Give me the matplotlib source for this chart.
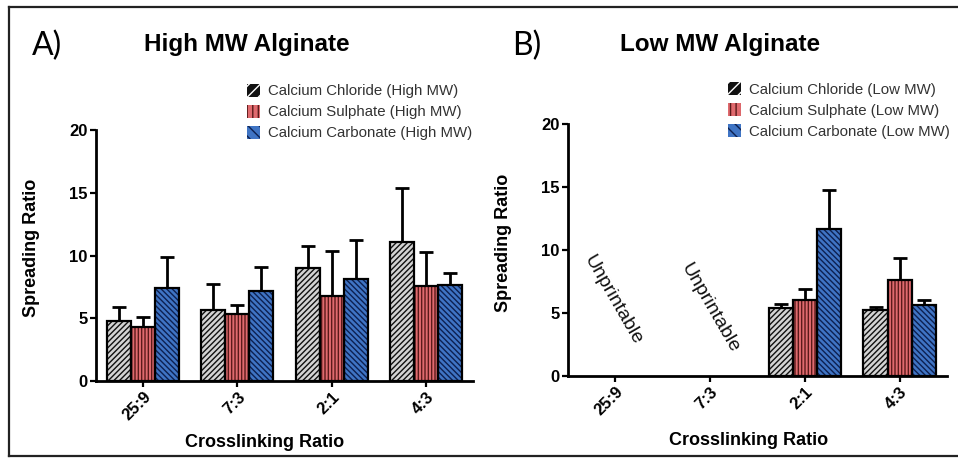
import numpy as np
import matplotlib.pyplot as plt
from matplotlib.patches import Patch
from matplotlib.lines import Line2D

plt.rcParams['font.family'] = ['Liberation Sans', 'DejaVu Sans']
plt.rcParams['hatch.linewidth'] = 1.0

# ---- data ----
ratios = ['25:9', '7:3', '2:1', '4:3']
salts = ['Calcium Chloride', 'Calcium Sulphate', 'Calcium Carbonate']

high_mean = [
    [4.8, 5.7, 9.0, 11.1],   # chloride
    [4.3, 5.35, 6.8, 7.6],   # sulphate
    [7.4, 7.2, 8.1, 7.65],   # carbonate
]
high_top = [
    [5.9, 7.7, 10.8, 15.4],
    [5.1, 6.05, 10.4, 10.3],
    [9.9, 9.1, 11.25, 8.6],
]
# low MW: 25:9 and 7:3 were unprintable
low_mean = [
    [np.nan, np.nan, 5.4, 5.25],
    [np.nan, np.nan, 6.0, 7.6],
    [np.nan, np.nan, 11.65, 5.65],
]
low_top = [
    [np.nan, np.nan, 5.7, 5.5],
    [np.nan, np.nan, 6.9, 9.35],
    [np.nan, np.nan, 14.8, 6.0],
]
unprintable = ['25:9', '7:3']

faces = ['#d4d4d4', '#e06a6e', '#3f74c4']
hatch_cols = ['#111111', '#5a1a1a', '#0d2050']
hatches = ['//////', '|||||', '\\\\\\\\\\\\']
legend_faces = ['#111111', '#e06a6e', '#3f74c4']
legend_hcols = ['white', '#5a1a1a', '#0d2050']
legend_hatch = ['///', '|||', '\\\\\\']

fig = plt.figure(figsize=(9.58, 4.58), dpi=100)
axA = fig.add_axes([0.1002, 0.168, 0.3935, 0.548])
axB = fig.add_axes([0.593, 0.179, 0.3956, 0.550])

w = 0.255
x = np.arange(len(ratios))


def draw(ax, means, tops, tag):
    for i in range(3):
        m = np.array(means[i], dtype=float)
        t = np.array(tops[i], dtype=float)
        xs = x + (i - 1) * w
        ax.bar(xs, m, w, color=faces[i], edgecolor=hatch_cols[i], hatch=hatches[i],
               linewidth=0, zorder=2)
        ax.bar(xs, m, w, fill=False, edgecolor='black', linewidth=1.6, zorder=3)
        ok = ~np.isnan(m)
        ax.errorbar(xs[ok], m[ok], yerr=[np.zeros(ok.sum()), (t - m)[ok]],
                    fmt='none', ecolor='black', elinewidth=2, capsize=5,
                    capthick=2, zorder=1)
    ax.set_xlim(-0.5, 3.5)
    ax.set_ylim(0, 20)
    ax.set_yticks([0, 5, 10, 15, 20])
    ax.set_xticks(x)
    ax.set_xticklabels(ratios, rotation=45, ha='right', rotation_mode='anchor',
                       fontsize=12, fontweight='bold')
    for lab in ax.get_yticklabels():
        lab.set_fontweight('bold')
        lab.set_fontsize(12)
    ax.tick_params(axis='both', width=1.6, length=4, pad=2)
    for s in ['top', 'right']:
        ax.spines[s].set_visible(False)
    for s in ['left', 'bottom']:
        ax.spines[s].set_linewidth(2)
    ax.set_ylabel('Spreading Ratio', fontsize=13, fontweight='bold')
    ax.set_xlabel('Crosslinking Ratio', fontsize=13, fontweight='bold')
    handles = [Patch(facecolor=legend_faces[i], edgecolor=legend_hcols[i],
                     hatch=legend_hatch[i], linewidth=0)
               for i in range(3)]
    labels = [f'{s} ({tag} MW)' for s in salts]
    return handles, labels


hA, lA = draw(axA, high_mean, high_top, 'High')
hB, lB = draw(axB, low_mean, low_top, 'Low')

axA.yaxis.set_label_coords(-0.149, 0.53)
axB.yaxis.set_label_coords(-0.148, 0.53)
axA.xaxis.set_label_coords(0.448, -0.212)
axB.xaxis.set_label_coords(0.475, -0.222)

for k, r in enumerate(unprintable):
    xi = ratios.index(r)
    axB.text(xi - 0.03 if k == 0 else xi, 6.0 if k == 0 else 5.4, 'Unprintable',
             rotation=-60, ha='center', va='center', fontsize=14, color='#111111')

legA = fig.legend(hA, lA, loc='upper left', bbox_to_anchor=(0.252, 0.83),
                  frameon=False, fontsize=10.8, handlelength=0.85, handleheight=0.95,
                  handletextpad=0.55, labelspacing=0.42, borderaxespad=0)
legB = fig.legend(hB, lB, loc='upper left', bbox_to_anchor=(0.754, 0.834),
                  frameon=False, fontsize=10.8, handlelength=0.85, handleheight=0.95,
                  handletextpad=0.55, labelspacing=0.42, borderaxespad=0)
for leg in (legA, legB):
    for t in leg.get_texts():
        t.set_color('#333333')

fig.text(247 / 958, 1 - 45 / 458, 'High MW Alginate', ha='center', va='center',
         fontsize=17.5, fontweight='bold')
fig.text(720 / 958, 1 - 45 / 458, 'Low MW Alginate', ha='center', va='center',
         fontsize=17.5, fontweight='bold')
fig.text(32 / 958, 1 - 46 / 458, 'A)', ha='left', va='center', fontsize=23,
         family=['Lato', 'DejaVu Sans'])
fig.text(512 / 958, 1 - 46 / 458, 'B)', ha='left', va='center', fontsize=23,
         family=['Lato', 'DejaVu Sans'])

# outer frame (left, top, bottom)
fx = 8.5 / 958
fy_top = 1 - 7 / 458
fy_bot = 1 - 456 / 458
for xs_, ys_ in [([fx, fx], [fy_bot, fy_top]), ([fx, 1.0], [fy_top, fy_top]),
                 ([fx, 1.0], [fy_bot, fy_bot])]:
    fig.add_artist(Line2D(xs_, ys_, transform=fig.transFigure, color='#222222', lw=1.6))

fig.savefig('out.png', dpi=100)
